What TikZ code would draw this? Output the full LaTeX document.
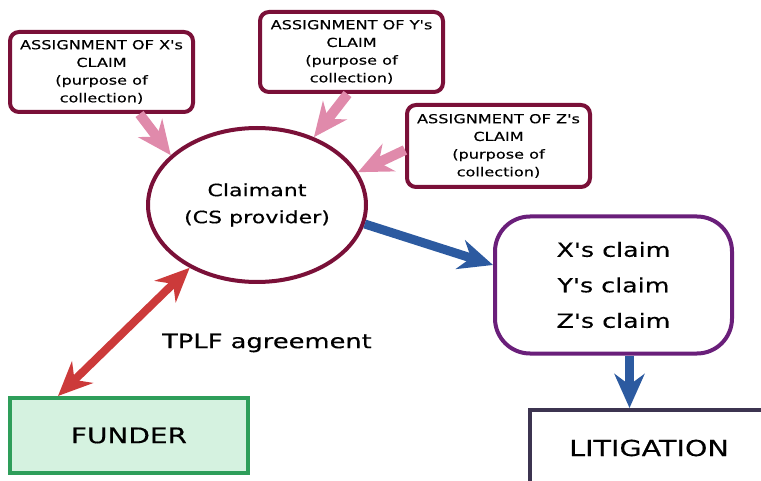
\documentclass[tikz,border=0pt]{standalone}
\usepackage{fontspec}
\newfontfamily\diafont{DejaVu Sans}[FakeStretch=1.3,FakeBold=0.35]
\usepackage{tikz}
\usetikzlibrary{arrows.meta,shapes.geometric,positioning}

\definecolor{wine}{RGB}{122,16,56}
\definecolor{rosy}{RGB}{224,138,171}
\definecolor{steel}{RGB}{44,90,160}
\definecolor{plum}{RGB}{106,31,122}
\definecolor{brick}{RGB}{204,58,58}
\definecolor{leaf}{RGB}{46,158,90}
\definecolor{mint}{RGB}{213,242,224}
\definecolor{slate}{RGB}{60,52,80}

\begin{document}
\begin{tikzpicture}[
			x = 1pt, y = -1pt,
			assign/.style = {draw=wine, line width=4pt, rounded corners=9pt, align=center, inner sep=0pt,
				minimum width=183pt, minimum height=80pt, font=\diafont\fontsize{12.4}{17.7}\selectfont},
			bighead/.tip = {Stealth[length=34pt,width=30pt,inset=11pt]},
			fat/.style = {line width=#1, -bighead},
			fat/.default = 9pt
		]
			\useasboundingbox (0,0) rectangle (761,481);

			% assignment boxes
			\node[assign] (xbox) at (101.5,72) {ASSIGNMENT OF X's\\CLAIM\\(purpose of\\collection)};
			\node[assign] (ybox) at (351.5,52) {ASSIGNMENT OF Y's\\CLAIM\\(purpose of\\collection)};
			\node[assign, minimum height=82pt] (zbox) at (498.5,146) {ASSIGNMENT OF Z's\\CLAIM\\(purpose of\\collection)};

			\node[ellipse, draw=wine, line width=4pt, minimum width=218pt, minimum height=154pt, align=center,
				font=\diafont\fontsize{17}{27}\selectfont] (claimant) at (257,205) {Claimant\\(CS provider)};

			\node[draw=plum, line width=4pt, rounded corners=35pt, minimum width=237pt, minimum height=137pt, align=center,
				font=\diafont\fontsize{19.5}{35.5}\selectfont] (claims) at (613.5,285) {X's claim\\Y's claim\\Z's claim};

			\node[draw=leaf, fill=mint, line width=4pt, minimum width=238pt, minimum height=75pt,
				font=\diafont\fontsize{21.5}{23}\selectfont] (funder) at (129,435.5) {FUNDER};
			\node[draw=slate, line width=4pt, minimum width=238pt, minimum height=76pt,
				font=\diafont\fontsize{22}{24}\selectfont] (lit) at (649,448) {LITIGATION};

			\node[font=\diafont\fontsize{19.8}{22}\selectfont] (tplf) at (267,343) {TPLF agreement};

			% arrows
			\draw[rosy, fat=10pt] ([xshift=38pt]xbox.south) -- (claimant.150);
			\draw[rosy, fat=10pt] ([xshift=-4pt]ybox.south) -- (claimant.50);
			\draw[rosy, fat=10pt] ([yshift=-4pt]zbox.west) -- (claimant.18);
			\draw[steel, fat] (claimant.-10) -- ([yshift=20pt]claims.west);
			\draw[steel, fat] ([xshift=16pt]claims.south) -- ([xshift=16pt]claims.south |- lit.north);
			\draw[brick, line width=8pt, bighead-bighead] ([xshift=-71pt]funder.north) -- (claimant.223);

		\end{tikzpicture}
\end{document}
